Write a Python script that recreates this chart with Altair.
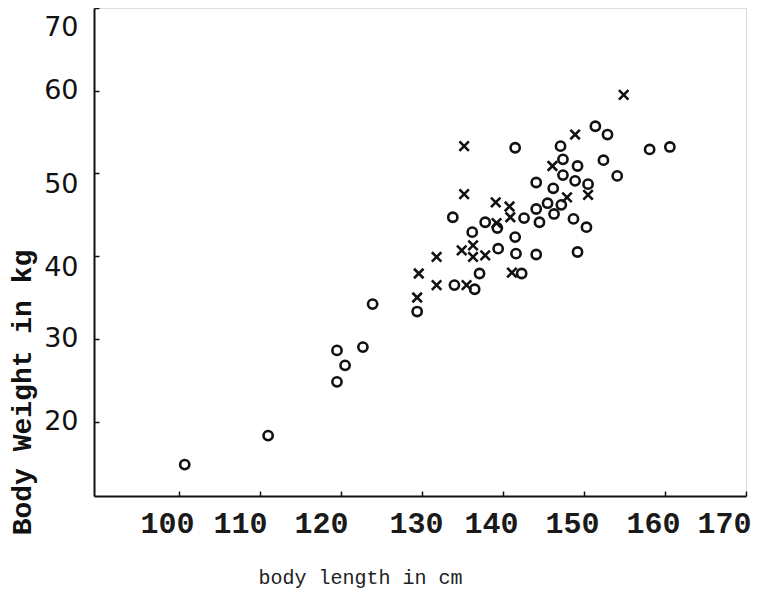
import altair as alt
import pandas as pd

# open circles
circle_length = [100.7, 111.0, 119.5, 122.7, 120.5, 119.5, 123.9, 129.4, 133.8, 134.0,
                 136.5, 137.1, 136.2, 137.8, 139.3, 139.4, 141.5, 141.5, 141.6, 142.6,
                 142.3, 144.1, 144.5, 144.1, 144.1, 145.5, 146.2, 146.3, 147.2, 147.1,
                 147.4, 147.4, 149.2, 148.9, 148.7, 150.3, 149.2, 150.5, 151.4, 152.9,
                 152.4, 154.1, 158.1, 160.6]
circle_weight = [14.8, 18.3, 28.6, 29.0, 26.8, 24.8, 34.2, 33.3, 44.7, 36.5,
                 36.0, 37.9, 42.9, 44.1, 43.4, 40.9, 53.1, 42.3, 40.3, 44.6,
                 37.9, 48.9, 44.1, 45.7, 40.2, 46.4, 48.2, 45.1, 46.2, 53.3,
                 51.7, 49.8, 50.9, 49.1, 44.5, 43.5, 40.5, 48.7, 55.7, 54.7,
                 51.6, 49.7, 52.9, 53.2]

# crosses
cross_length = [135.2, 135.2, 139.1, 140.8, 140.9, 139.2, 134.9, 136.3, 136.3, 137.8,
                131.8, 129.6, 131.8, 135.5, 129.4, 141.1, 148.9, 146.1, 150.5, 147.9,
                154.9]
cross_weight = [53.3, 47.5, 46.5, 46.0, 44.7, 44.0, 40.7, 41.3, 39.9, 40.1,
                39.9, 37.9, 36.5, 36.5, 35.0, 38.0, 54.7, 50.9, 47.4, 47.1,
                59.5]

x_ticks = [100, 110, 120, 130, 140, 150, 160, 170]
y_ticks = [20, 30, 40, 50, 60, 70]

df = pd.DataFrame({
    "length": circle_length + cross_length,
    "weight": circle_weight + cross_weight,
    "group": ["o"] * len(circle_length) + ["x"] * len(cross_length),
})

x_path = "M-1,-1L1,1M-1,1L1,-1"

points = alt.Chart(df).mark_point(filled=False, strokeWidth=2.6, opacity=1, color="#111").encode(
    x=alt.X("length:Q",
            scale=alt.Scale(domain=[89.5, 170], nice=False, zero=False),
            axis=alt.Axis(
                values=x_ticks, title="body length in cm", grid=False,
                labelFont="Liberation Mono", labelFontSize=30, labelFontWeight="bold",
                labelColor="#1a1a1a", labelPadding=17, labelFlush=False,
                labelOffset={"condition": [
                    {"test": "datum.value == 110 || datum.value == 120", "value": -20},
                    {"test": "datum.value == 170", "value": -22},
                    {"test": "datum.value == 130", "value": -6}], "value": -12},
                tickSize={"expr": "-5"}, tickColor="#111", tickWidth=1.5,
                domainColor="#111", domainWidth=2,
                titleFont="Liberation Mono", titleFontSize=20, titleFontWeight="normal",
                titleColor="#222", titleX=266, titleY=81, titleBaseline="middle",
                titleAlign="center")),
    y=alt.Y("weight:Q",
            scale=alt.Scale(domain=[11, 70], nice=False, zero=False),
            axis=alt.Axis(
                values=y_ticks, title="Body Weight in kg", grid=False,
                labelFont="DejaVu Sans", labelFontSize=27, labelColor="#111",
                labelPadding=21, labelFlush=False,
                labelOffset={"condition": [
                    {"test": "datum.value == 70", "value": 19},
                    {"test": "datum.value == 50 || datum.value == 40", "value": 11}], "value": 0},
                tickSize={"expr": "-5"}, tickColor="#111", tickWidth=1.5,
                domainColor="#111", domainWidth=2,
                titleFont="Liberation Mono", titleFontSize=28, titleFontWeight="bold",
                titleColor="#111", titleX=-72, titleY=384, titleAngle=-90,
                titleBaseline="middle", titleAlign="center")),
    shape=alt.Shape("group:N", scale=alt.Scale(domain=["o", "x"], range=["circle", x_path]),
                    legend=None),
    size=alt.Size("group:N", scale=alt.Scale(domain=["o", "x"], range=[85, 90]), legend=None),
)

chart = points.properties(
    width=652, height=488,
    autosize=alt.AutoSizeParams(type="none"),
    padding={"left": 86, "top": 0, "right": 7, "bottom": 100},
).configure_view(stroke="#111", strokeWidth=1.5).configure(background="white")

chart.save("out.html", embed_options={"renderer": "svg", "actions": False})
